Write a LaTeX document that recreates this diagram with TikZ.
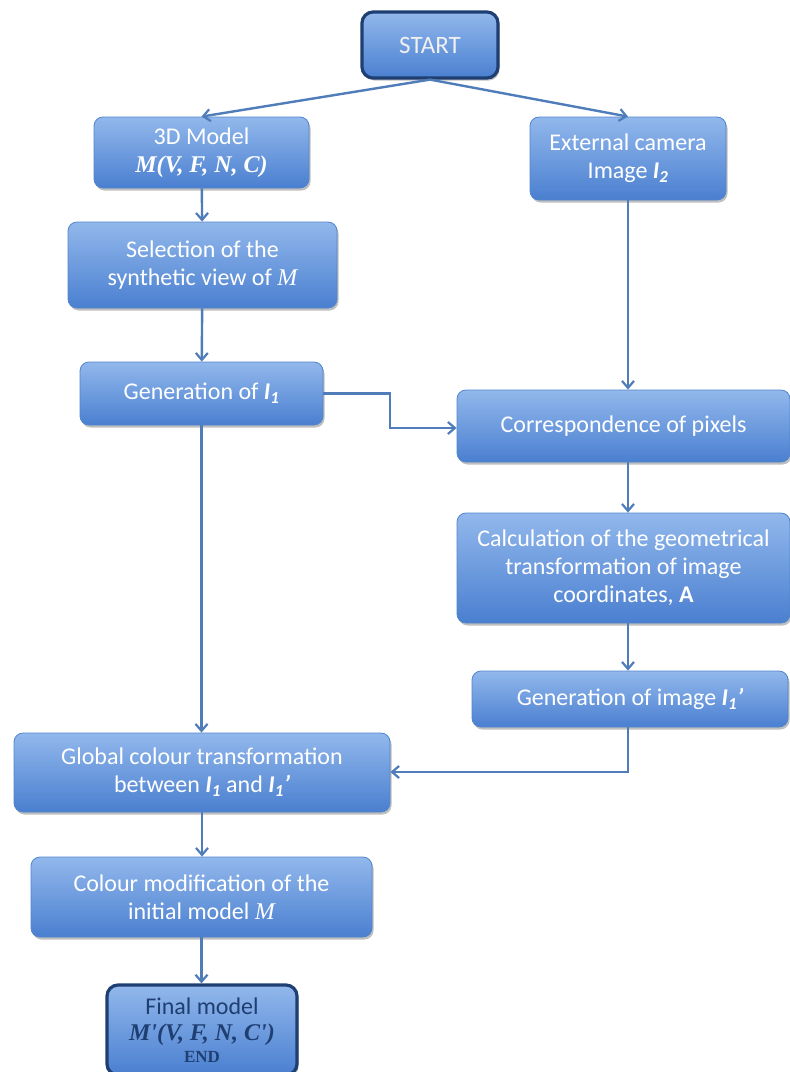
\documentclass[tikz,border=0pt]{standalone}
\usepackage{fontspec}
\setmainfont{Carlito}
\newfontfamily\serf{Liberation Serif}
\usetikzlibrary{arrows.meta,shadows}
\definecolor{topc}{HTML}{92B8EC}
\definecolor{botc}{HTML}{4A7FD0}
\definecolor{edgec}{HTML}{5185CC}
\definecolor{navy}{HTML}{1F3F72}
\definecolor{arrc}{HTML}{4F7DBA}
\newcommand{\Ione}{\textbf{\textit{I\textsubscript{1}}}}
\newcommand{\Itwo}{\textbf{\textit{I\textsubscript{2}}}}
\newcommand{\serit}[1]{{\serf\itshape #1}}
\newcommand{\serbit}[1]{{\serf\itshape\bfseries #1}}
\begin{document}
\begin{tikzpicture}[x=1pt,y=-1pt,
  box/.style={rectangle, rounded corners=9pt, draw=edgec, line width=0.8pt,
    top color=topc, bottom color=botc, text=white, align=center,
    font=\fontsize{24}{28}\selectfont, inner sep=2pt,
    drop shadow={shadow xshift=1.5pt, shadow yshift=-2.5pt, opacity=0.25, fill=black}},
  termbox/.style={box, draw=navy, line width=3.2pt, rounded corners=11pt},
  conn/.style={draw=arrc, line width=2.4pt, -{Straight Barb[length=7pt,width=12pt,line width=2.2pt]}}
]
\useasboundingbox (0,0) rectangle (790,1072);
\fill[white] (0,0) rectangle (790,1072);

\node[termbox, minimum width=136pt, minimum height=66pt, text=white!88!gray, font=\fontsize{25}{28}\selectfont] (start) at (430,45) {START};
\node[box, minimum width=215pt, minimum height=71pt] (m3d) at (201.5,152.5) {3D Model\\[0pt]\serbit{M(V, F, N, C)}};
\node[box, minimum width=196pt, minimum height=83pt] (ext) at (628,158.5) {External camera\\Image \Itwo};
\node[box, minimum width=269pt, minimum height=86pt] (sel) at (202.5,265) {Selection of the\\synthetic view of \serit{M}};
\node[box, minimum width=243pt, minimum height=63pt] (gen1) at (201.5,393.5) {Generation of \Ione};
\node[box, minimum width=333pt, minimum height=72pt] (corr) at (623.5,426) {Correspondence of pixels};
\node[box, minimum width=333pt, minimum height=110pt] (calc) at (623.5,568) {Calculation of the geometrical\\transformation of image\\coordinates, \textbf{A}};
\node[box, minimum width=316pt, minimum height=56pt] (genimg) at (630,699) {Generation of image \Ione\textbf{\textit{'}}};
\node[box, minimum width=376pt, minimum height=79pt] (glob) at (202,772.5) {Global colour transformation\\between \Ione{} and \Ione\textbf{\textit{'}}};
\node[box, minimum width=341pt, minimum height=80pt] (cmod) at (201.5,897) {Colour modification of the\\initial model \serit{M}};
\node[termbox, minimum width=190pt, minimum height=90pt, text=navy, font=\fontsize{24}{26}\selectfont] (fin) at (202,1030) {Final model\\\serbit{M'(V, F, N, C')}\\[-4pt]{\serf\bfseries\fontsize{17}{17}\selectfont END}};

\coordinate (ja) at (390,393.5);
\coordinate (jb) at (390,428);
\coordinate (jc) at (628,772);

\draw[conn] (start.south) -- (m3d.north);
\draw[conn] (start.south) -- (ext.north);
\draw[conn] (m3d) -- (sel);
\draw[conn] (sel) -- (gen1);
\draw[conn] (gen1.east) -- (ja) -- (jb) -- (corr.west |- jb);
\draw[conn] (ext.south) -- (ext.south |- corr.north);
\draw[conn] (ext.south |- corr.south) -- (ext.south |- calc.north);
\draw[conn] (ext.south |- calc.south) -- (ext.south |- genimg.north);
\draw[conn] (ext.south |- genimg.south) -- (jc) -- (glob.east |- jc);
\draw[conn] (gen1) -- (gen1 |- glob.north);
\draw[conn] (glob) -- (glob |- cmod.north);
\draw[conn] (cmod) -- (cmod |- fin.north);
\end{tikzpicture}
\end{document}
